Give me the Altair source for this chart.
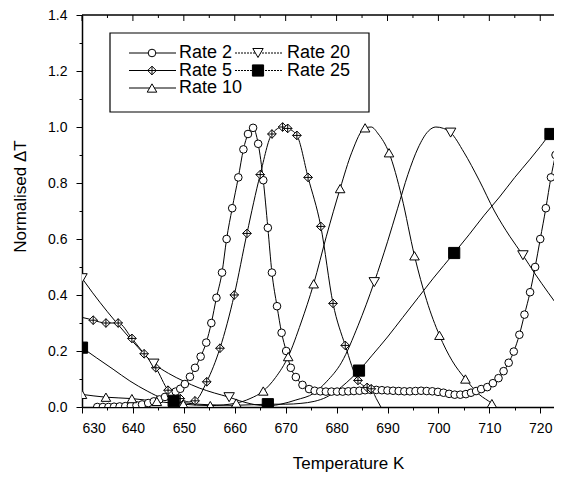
import altair as alt
import pandas as pd

# ---------------- data ----------------
series_names = ["Rate 2", "Rate 5", "Rate 10", "Rate 20", "Rate 25"]

r2_T = [633.0, 634.1, 635.2, 636.3, 637.4, 638.5, 639.6, 640.7, 641.8, 643.0,
        644.1, 645.2, 646.3, 647.4, 648.4, 649.3, 650.2, 651.2, 652.2, 653.3,
        654.4, 655.4, 656.4, 657.5, 658.4, 659.5, 660.7, 661.7, 662.6, 663.6,
        664.6, 665.6, 666.5, 667.3, 668.3, 669.2, 670.1, 671.0, 672.0, 673.3,
        674.6, 675.7, 676.8, 677.9, 679.0, 680.1, 681.2, 682.3, 683.4, 684.5,
        685.6, 686.7, 687.8, 688.9, 690.0, 691.1, 692.2, 693.3, 694.4, 695.5,
        696.6, 697.7, 698.8, 699.9, 701.0, 702.1, 703.2, 704.3, 705.4, 706.4,
        707.4, 708.4, 709.6, 710.7, 711.8, 712.8, 713.8, 714.8, 715.9, 716.9,
        718.0, 719.0, 720.0, 721.1, 722.1, 723.0, 724.0]
r2_v = [0.000, 0.000, 0.000, 0.001, 0.002, 0.003, 0.004, 0.006, 0.009, 0.014,
        0.020, 0.027, 0.036, 0.046, 0.055, 0.065, 0.082, 0.108, 0.140, 0.180,
        0.230, 0.300, 0.390, 0.480, 0.600, 0.710, 0.820, 0.920, 0.975, 0.997,
        0.940, 0.810, 0.640, 0.480, 0.360, 0.265, 0.200, 0.140, 0.107, 0.079,
        0.064, 0.058, 0.056, 0.055, 0.055, 0.055, 0.055, 0.056, 0.057, 0.058,
        0.060, 0.061, 0.061, 0.060, 0.059, 0.058, 0.057, 0.056, 0.056, 0.057,
        0.058, 0.057, 0.056, 0.054, 0.051, 0.047, 0.044, 0.044, 0.046, 0.051,
        0.057, 0.064, 0.071, 0.085, 0.103, 0.128, 0.158, 0.198, 0.258, 0.330,
        0.410, 0.500, 0.600, 0.710, 0.820, 0.900, 0.970]
r2_mark = [1] * len(r2_T)

r5_T = [630.0, 631.2, 632.2, 634.7, 637.1, 639.8, 642.2, 644.5, 646.9, 649.3,
        651.0, 652.2, 654.5, 657.1, 659.9, 662.4, 665.0, 667.3, 669.4, 670.4,
        672.2, 674.4, 676.9, 679.3, 681.7, 684.2, 686.0, 686.8, 687.8, 688.7]
r5_v = [0.320, 0.315, 0.310, 0.300, 0.300, 0.245, 0.190, 0.140, 0.060, 0.030,
        0.018, 0.022, 0.090, 0.210, 0.400, 0.620, 0.830, 0.975, 1.000, 0.995,
        0.970, 0.820, 0.645, 0.370, 0.220, 0.095, 0.070, 0.065, 0.030, 0.000]
r5_mark = [0, 0, 1, 1, 1, 1, 1, 1, 1, 1,
           0, 1, 1, 1, 1, 1, 1, 1, 1, 1,
           1, 1, 1, 1, 1, 1, 1, 1, 0, 0]

r10_T = [630.0, 634.7, 639.8, 644.7, 649.9, 655.2, 660.3, 663.0, 665.6, 668.0,
         670.5, 673.0, 675.5, 678.0, 680.7, 683.0, 685.6, 686.8, 688.2, 690.3,
         692.8, 695.3, 697.7, 700.2, 702.7, 705.3, 708.0, 710.5, 711.2]
r10_v = [0.045, 0.035, 0.030, 0.020, 0.010, 0.005, 0.014, 0.030, 0.057, 0.105,
         0.180, 0.300, 0.440, 0.610, 0.780, 0.910, 0.997, 1.000, 0.975, 0.908,
         0.750, 0.540, 0.380, 0.256, 0.165, 0.100, 0.045, 0.012, 0.000]
r10_mark = [1, 1, 1, 1, 1, 1, 1, 0, 1, 0,
            1, 0, 1, 0, 1, 0, 1, 0, 0, 1,
            0, 1, 0, 1, 0, 1, 0, 1, 0]

r20_T = [630.0, 632.0, 635.0, 638.0, 641.0, 644.1, 647.0, 650.0, 653.0, 656.0,
         658.9, 661.0, 663.0, 665.0, 667.0, 669.0, 672.0, 675.6, 678.0, 681.0,
         684.2, 687.4, 690.0, 692.0, 694.0, 696.0, 698.0, 699.5, 701.0, 702.4,
         705.0, 708.0, 711.0, 714.0, 716.6, 719.0, 721.5, 724.3]
r20_v = [0.460, 0.410, 0.340, 0.275, 0.213, 0.155, 0.120, 0.092, 0.068, 0.050,
         0.035, 0.022, 0.012, 0.006, 0.005, 0.010, 0.025, 0.050, 0.090, 0.160,
         0.290, 0.446, 0.590, 0.710, 0.830, 0.925, 0.985, 1.000, 0.995, 0.980,
         0.910, 0.810, 0.700, 0.610, 0.542, 0.475, 0.410, 0.340]
r20_mark = [1, 0, 0, 0, 0, 1, 0, 0, 0, 0,
            1, 0, 0, 0, 0, 0, 0, 0, 0, 0,
            0, 1, 0, 0, 0, 0, 0, 0, 0, 1,
            0, 0, 0, 0, 1, 0, 0, 0]

r25_T = [630.0, 632.9, 636.1, 639.4, 642.8, 646.0, 648.0, 651.0, 655.0, 660.0,
         666.5, 670.0, 673.0, 675.6, 678.0, 680.0, 682.0, 684.4, 687.0, 690.0,
         693.0, 696.0, 699.0, 703.1, 706.0, 709.0, 712.0, 715.0, 718.0, 720.0,
         722.0, 724.3]
r25_v = [0.212, 0.175, 0.135, 0.093, 0.057, 0.030, 0.022, 0.013, 0.008, 0.006,
         0.010, 0.010, 0.013, 0.020, 0.035, 0.058, 0.088, 0.130, 0.185, 0.250,
         0.320, 0.390, 0.460, 0.550, 0.615, 0.685, 0.750, 0.820, 0.885, 0.930,
         0.975, 0.995]
r25_mark = [1, 0, 0, 0, 0, 0, 1, 0, 0, 0,
            1, 0, 0, 0, 0, 0, 0, 1, 0, 0,
            0, 0, 0, 1, 0, 0, 0, 0, 0, 0,
            1, 0]

x_major = list(range(630, 725, 10))
x_minor = list(range(635, 725, 10))
x_ticks = sorted(x_major + x_minor)
y_ticks = [0.0, 0.1, 0.2, 0.3, 0.4, 0.5, 0.6, 0.7, 0.8, 0.9, 1.0, 1.1, 1.2, 1.3, 1.4]

# ---------------- tables ----------------
rows = []
for name, T, v, m in [("Rate 2", r2_T, r2_v, r2_mark), ("Rate 5", r5_T, r5_v, r5_mark),
                      ("Rate 10", r10_T, r10_v, r10_mark), ("Rate 20", r20_T, r20_v, r20_mark),
                      ("Rate 25", r25_T, r25_v, r25_mark)]:
    for t, val, mk in zip(T, v, m):
        rows.append({"series": name, "T": t, "v": val, "mark": mk})
df = pd.DataFrame(rows)

major_df = pd.DataFrame({"T": x_major})
minor_df = pd.DataFrame({"T": x_minor})

# legend layout (pixel positions inside the plot area)
leg_col = {"Rate 2": 0, "Rate 5": 0, "Rate 10": 0, "Rate 20": 1, "Rate 25": 1}
leg_row = {"Rate 2": 0, "Rate 20": 0, "Rate 5": 1, "Rate 25": 1, "Rate 10": 2}
col_line0 = [47, 153]
col_line1 = [94, 201]
col_sym = [70, 176]
col_text = [97, 205]
row_y = [38, 55.5, 73]
leg = pd.DataFrame([{"series": s,
                     "lx0": col_line0[leg_col[s]], "lx1": col_line1[leg_col[s]],
                     "sx": col_sym[leg_col[s]], "tx": col_text[leg_col[s]],
                     "ly": row_y[leg_row[s]], "dash": leg_col[s]} for s in series_names])
box = pd.DataFrame([{"x0": 28, "x1": 287, "y0": 18, "y1": 97}])

# ---------------- styling ----------------
FONT = "Liberation Sans"
W, H = 472, 392
X_MAX = 722.7
xs = alt.Scale(domain=[630, X_MAX], nice=False, zero=False)
ys = alt.Scale(domain=[0, 1.4], nice=False, zero=False)

oplus = "M0,-1L1,0L0,1L-1,0Z M0,-1L0,1 M-1,0L1,0"
shape_scale = alt.Scale(domain=series_names,
                        range=["circle", oplus, "triangle-up", "triangle-down", "square"])
fill_scale = alt.Scale(domain=series_names, range=["white", "white", "white", "white", "black"])
size_scale = alt.Scale(domain=series_names, range=[58, 125, 80, 80, 38])

x_tick_size = {"condition": {"test": "datum.value % 10 === 0", "value": 6}, "value": 3}
y_tick_size = {"condition": {"test": "round(datum.value * 10) % 2 === 0", "value": 6}, "value": 3}

axis_common = dict(grid=False, domainColor="black", domainWidth=1.5, tickColor="black",
                   tickWidth=1, labelFont=FONT, labelFontSize=14, labelColor="black",
                   titleFont=FONT, titleFontSize=17, titleFontWeight="normal",
                   titleColor="black")

x_axis = alt.Axis(values=x_ticks, tickSize=x_tick_size,
                  labelExpr="datum.value % 10 === 0 ? datum.label : ''",
                  labelPadding=8, title="Temperature K", titleX=266, titleY=56,
                  titleBaseline="middle", titleAlign="center", **axis_common)
y_axis = alt.Axis(values=y_ticks, tickSize=y_tick_size,
                  labelExpr="round(datum.value * 10) % 2 === 0 ? format(datum.value, '.1f') : ''",
                  labelPadding=9, title="Normalised \u0394T", titleX=-62, titleY=181,
                  titleBaseline="middle", titleAlign="center", titleAngle=-90, **axis_common)

base = alt.Chart(df)

lines = base.mark_line(color="black", strokeWidth=1, interpolate="monotone", clip=True).encode(
    x=alt.X("T:Q", scale=xs, axis=x_axis),
    y=alt.Y("v:Q", scale=ys, axis=y_axis),
    detail="series:N",
    order="T:Q",
)

points = base.transform_filter("datum.mark == 1").mark_point(
    stroke="black", strokeWidth=1, opacity=1, filled=False, clip=True).encode(
    x=alt.X("T:Q", scale=xs, axis=x_axis),
    y=alt.Y("v:Q", scale=ys, axis=y_axis),
    shape=alt.Shape("series:N", scale=shape_scale, legend=None),
    fill=alt.Fill("series:N", scale=fill_scale, legend=None),
    size=alt.Size("series:N", scale=size_scale, legend=None),
)

# top frame line with inward ticks (mirrored x axis)
top_line = alt.Chart(box).mark_rule(color="black", strokeWidth=1.5).encode(
    x=alt.value(0), x2=alt.value(W), y=alt.value(0)
)
top_major = alt.Chart(major_df).mark_rule(color="black", strokeWidth=1).encode(
    x=alt.X("T:Q", scale=xs, axis=x_axis), y=alt.value(0), y2=alt.value(6)
)
top_minor = alt.Chart(minor_df).mark_rule(color="black", strokeWidth=1).encode(
    x=alt.X("T:Q", scale=xs, axis=x_axis), y=alt.value(0), y2=alt.value(3)
)

leg_box = alt.Chart(box).mark_rect(fill="white", stroke="black", strokeWidth=1.2).encode(
    x=alt.X("x0:Q", scale=None, axis=None), x2="x1:Q",
    y=alt.Y("y0:Q", scale=None, axis=None), y2="y1:Q",
)
leg_lines = alt.Chart(leg).mark_rule(color="black", strokeWidth=1).encode(
    x=alt.X("lx0:Q", scale=None, axis=None), x2="lx1:Q",
    y=alt.Y("ly:Q", scale=None, axis=None),
    strokeDash=alt.condition("datum.dash == 1", alt.value([2, 1]), alt.value([1, 0])),
)
leg_syms = alt.Chart(leg).mark_point(stroke="black", strokeWidth=1, opacity=1, filled=False).encode(
    x=alt.X("sx:Q", scale=None, axis=None),
    y=alt.Y("ly:Q", scale=None, axis=None),
    shape=alt.Shape("series:N", scale=shape_scale, legend=None),
    fill=alt.Fill("series:N", scale=fill_scale, legend=None),
    size=alt.Size("series:N", scale=size_scale, legend=None),
)
leg_text = alt.Chart(leg).mark_text(align="left", baseline="middle", font=FONT,
                                    fontSize=18, color="black").encode(
    x=alt.X("tx:Q", scale=None, axis=None),
    y=alt.Y("ly:Q", scale=None, axis=None),
    text="series:N",
)

chart = alt.layer(lines, points, top_line, top_major, top_minor,
                  leg_box, leg_lines, leg_syms, leg_text).properties(
    width=W, height=H,
    autosize=alt.AutoSizeParams(type="none"),
    padding={"left": 74, "top": 7, "right": 0, "bottom": 68},
    background="white",
).configure_view(stroke=None)

chart.save("out.html", embed_options={"renderer": "svg", "actions": False})
